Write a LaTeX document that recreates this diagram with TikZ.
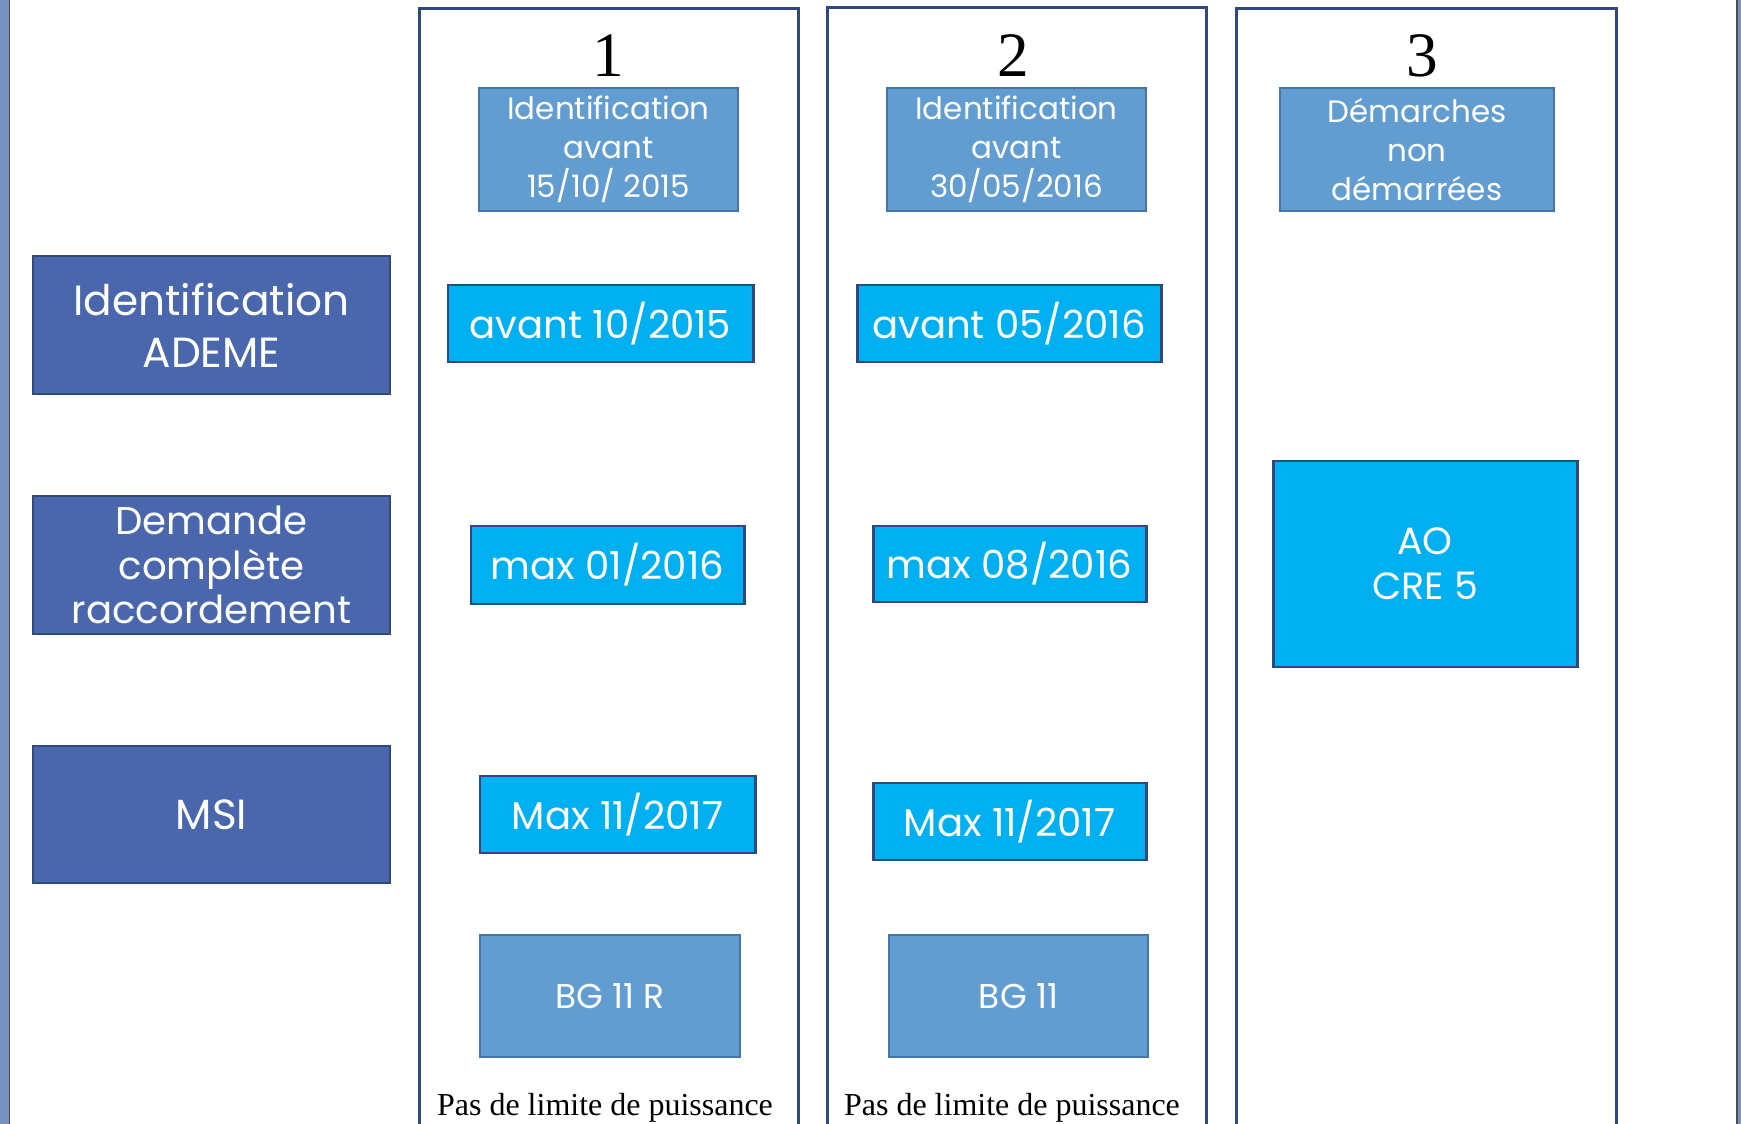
\documentclass[tikz,border=0pt]{standalone}
\usepackage{fontspec}
\setmainfont{Liberation Serif}
\newfontfamily\gothic{Poppins}
\usetikzlibrary{positioning}

\definecolor{slate}{RGB}{74,103,173}
\definecolor{slateline}{RGB}{47,74,125}
\definecolor{steel}{RGB}{98,157,209}
\definecolor{steelline}{RGB}{70,118,168}
\definecolor{cyanbox}{RGB}{0,176,240}
\definecolor{navy}{RGB}{47,72,128}
\definecolor{edge}{RGB}{117,146,194}

\begin{document}
\begin{tikzpicture}[x=1mm, y=-1mm, inner sep=0pt,
    column/.style={draw=navy, line width=0.8pt, anchor=north west, minimum height=114mm},
    digit/.style={anchor=base, font=\fontsize{18}{20}\selectfont},
    side/.style={draw=slateline, fill=slate, line width=0.8pt, text=white, align=center,
        minimum width=35.7mm, minimum height=13.8mm, font=\gothic\fontsize{12}{14.8}\selectfont},
    head/.style={draw=steelline, fill=steel, line width=0.6pt, text=white, align=center,
        minimum height=12.3mm, font=\gothic\fontsize{8.8}{11.1}\selectfont},
    datebox/.style={draw=navy, fill=cyanbox, line width=0.85pt, text=white, align=center,
        minimum height=7.7mm, font=\gothic\fontsize{11}{13}\selectfont},
    note/.style={anchor=base, font=\fontsize{9.1}{11}\selectfont}]
\useasboundingbox (0,0) rectangle (174.1,112.4);

% slide edges
\fill[edge] (0,0) rectangle (0.85,112.4);
\draw[black!70, line width=0.5pt] (0.95,0) -- (0.95,112.4);
\fill[edge] (173.8,0) rectangle (174.1,112.4);
\draw[black!70, line width=0.5pt] (173.7,0) -- (173.7,112.4);

% columns
\node[column, minimum width=37.9mm] (col-one) at (41.8,0.7) {};
\node[column, minimum width=37.9mm] (col-two) at (82.6,0.6) {};
\node[column, minimum width=38.0mm] (col-three) at (123.5,0.7) {};

\node[digit] (num-one) at (60.8,7.7) {1};
\node[digit] (num-two) at (101.3,7.7) {2};
\node[digit] (num-three) at (142.2,7.7) {3};

% row labels
\node[side] (ademe) at (21.15,32.5) {Identification\\ADEME};
\node[side, font=\gothic\fontsize{11}{12.7}\selectfont] (demande) at (21.15,56.5) {Demande\\complète\\raccordement};
\node[side, minimum height=13.7mm] (msi) at (21.15,81.45) {MSI};

% column 1
\node[head, minimum width=25.9mm] (id-one) at (60.85,14.95) {Identification\\avant\\15/10/ 2015};
\node[datebox, minimum width=30.5mm] (avant-one) at (60.05,32.35) {avant 10/2015};
\node[datebox, minimum width=27.3mm, minimum height=7.8mm] (max-one) at (60.75,56.5) {max 01/2016};
\node[datebox, minimum width=27.5mm] (msi-one) at (61.75,81.45) {Max 11/2017};
\node[head, minimum width=26mm, minimum height=12.2mm, font=\gothic\fontsize{9.8}{11}\selectfont] (bg-one) at (61,99.6) {BG 11 R};
\node[note] (note-one) at (60.5,111.5) {Pas de limite de puissance};

% column 2
\node[head, minimum width=25.9mm] (id-two) at (101.65,14.95) {Identification\\avant\\30/05/2016};
\node[datebox, minimum width=30.4mm] (avant-two) at (100.9,32.35) {avant 05/2016};
\node[datebox, minimum width=27.3mm, minimum height=7.6mm] (max-two) at (100.95,56.4) {max 08/2016};
\node[datebox, minimum width=27.3mm] (msi-two) at (100.95,82.15) {Max 11/2017};
\node[head, minimum width=25.9mm, minimum height=12.2mm, font=\gothic\fontsize{9.8}{11}\selectfont] (bg-two) at (101.85,99.6) {BG 11};
\node[note] (note-two) at (101.2,111.5) {Pas de limite de puissance};

% column 3
\node[head, minimum width=27.4mm] (id-three) at (141.7,14.95) {Démarches\\non\\démarrées};
\node[datebox, minimum width=30.4mm, minimum height=20.6mm, font=\gothic\fontsize{10.8}{12.8}\selectfont] (ao) at (142.5,56.4) {AO\\CRE 5};

\end{tikzpicture}
\end{document}
